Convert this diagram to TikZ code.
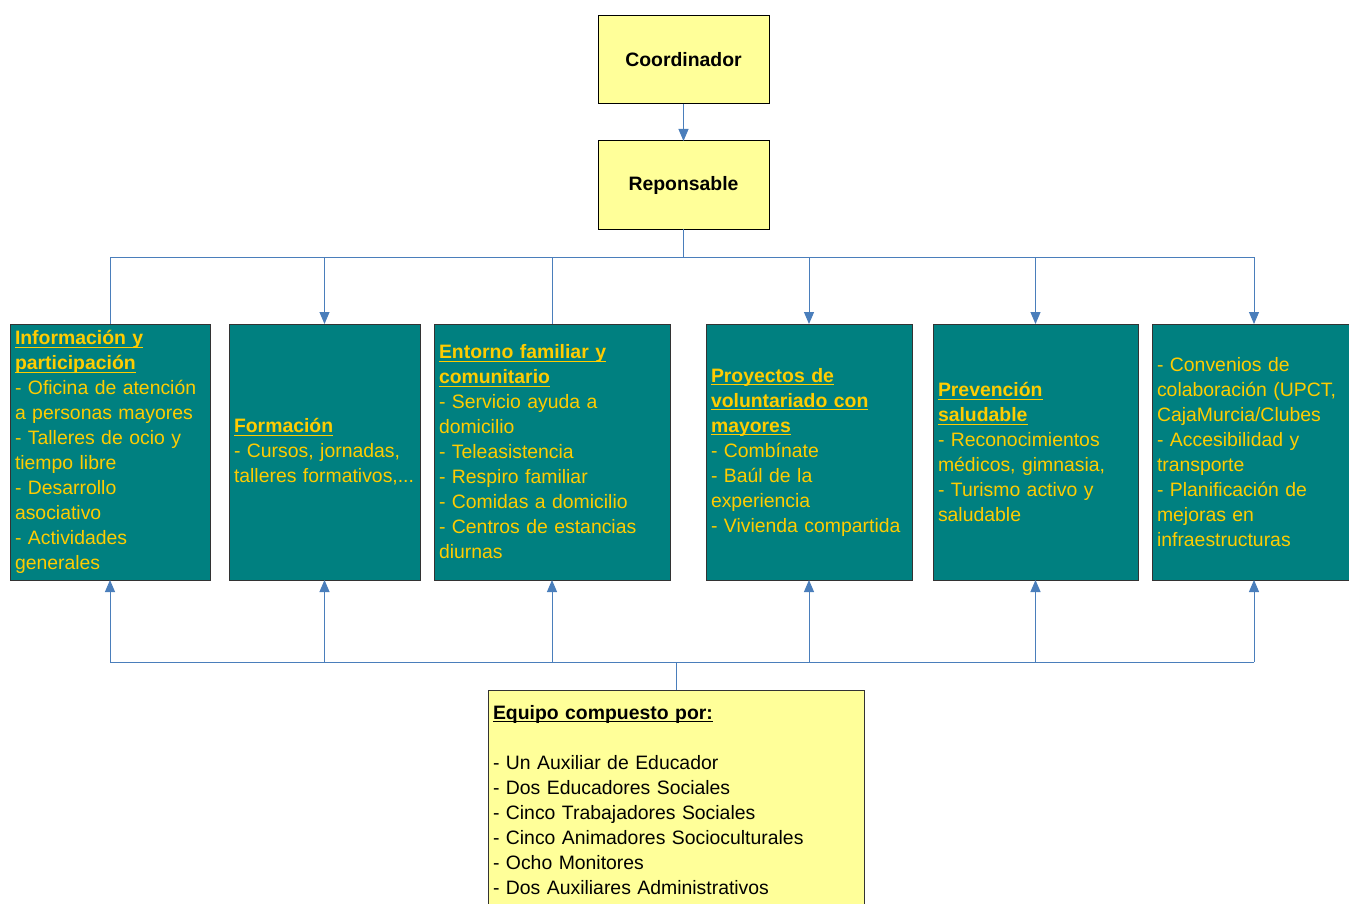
\documentclass[tikz,border=0pt]{standalone}
\usepackage{fontspec}
\setmainfont{Liberation Sans}
\usepackage{tikz}
\usetikzlibrary{arrows.meta,positioning}
\usepackage{xcolor}
\definecolor{Petrol}{HTML}{008080}
\definecolor{Amber}{HTML}{FFCC00}
\definecolor{Cream}{HTML}{FFFF99}
\definecolor{Wire}{HTML}{4A7EBB}
\definecolor{Edge}{HTML}{333333}
\newcommand{\encabezado}[1]{\textbf{\underline{\raisebox{0pt}[\height][0pt]{#1}}}}
\tikzset{
 headbox/.style={draw=black, fill=Cream, minimum width=85.5pt, minimum height=44pt, line width=0.5pt, outer sep=0pt, font=\fontsize{9.7}{12.5}\selectfont\bfseries},
 areabox/.style={draw=Edge, fill=Petrol, text=Amber, minimum height=128pt, align=left, inner xsep=2.5pt, inner ysep=0pt, line width=0.5pt, outer sep=0pt, font=\fontsize{9.7}{12.5}\selectfont},
 teambox/.style={draw=Edge, fill=Cream, align=left, inner xsep=2.5pt, inner ysep=7.5pt, line width=0.5pt, outer sep=0pt, text width=183pt, font=\fontsize{9.7}{12.5}\selectfont},
 wire/.style={draw=Wire, line width=0.5pt},
 tiparrow/.style={wire, -{Triangle[length=6pt,width=5pt]}, fill=Wire}
}
\begin{document}
\begin{tikzpicture}[x=0.5pt,y=-0.5pt]
\useasboundingbox (0,0) rectangle (1349,904);
\node[headbox] (coord) at (683.5,60) {Coordinador};
\node[headbox,below=18.5pt of coord] (resp) {Reponsable};
\node[areabox,text width=95pt,anchor=north west] (info) at (10,324) {\encabezado{Información y}\\ \encabezado{participación}\\ - Oficina de atención\\ a personas mayores\\ - Talleres de ocio y\\ tiempo libre\\ - Desarrollo\\ asociativo\\ - Actividades\\ generales};
\node[areabox,text width=90.5pt,right=9.5pt of info] (form) {\encabezado{Formación}\\ - Cursos, jornadas,\\ talleres formativos,...};
\node[areabox,text width=113pt,right=7pt of form] (entorno) {\encabezado{Entorno familiar y}\\ \encabezado{comunitario}\\ - Servicio ayuda a\\ domicilio\\ - Teleasistencia\\ - Respiro familiar\\ - Comidas a domicilio\\ - Centros de estancias\\ diurnas};
\node[areabox,text width=98pt,right=18pt of entorno] (proyectos) {\encabezado{Proyectos de}\\ \encabezado{voluntariado con}\\ \encabezado{mayores}\\ - Combínate\\ - Baúl de la\\ experiencia\\ - Vivienda compartida};
\node[areabox,text width=97.5pt,right=10.5pt of proyectos] (prev) {\encabezado{Prevención}\\ \encabezado{saludable}\\ - Reconocimientos\\ médicos, gimnasia,\\ - Turismo activo y\\ saludable};
\node[areabox,text width=97pt,right=7pt of prev] (otros) {- Convenios de\\ colaboración (UPCT,\\ CajaMurcia/Clubes\\ - Accesibilidad y\\ transporte\\ - Planificación de\\ mejoras en\\ infraestructuras};
\node[teambox,anchor=north] (team) at (676,690) {\encabezado{Equipo compuesto por:}\\[12.5pt] - Un Auxiliar de Educador\\ - Dos Educadores Sociales\\ - Cinco Trabajadores Sociales\\ - Cinco Animadores Socioculturales\\ - Ocho Monitores\\ - Dos Auxiliares Administrativos};
\coordinate[below=14pt of resp] (busTop);
\coordinate[above=14pt of team] (busBottom);
\draw[tiparrow] (coord) -- (resp);
\draw[wire] (resp) -- (busTop);
\draw[wire] (busTop -| info.north) -- (busTop -| otros.north);
\draw[wire] (busTop -| info.north) -- (info.north);
\draw[wire] (busTop -| entorno.north) -- (entorno.north);
\foreach \n in {form,proyectos,prev,otros}
 \draw[tiparrow] (busTop -| \n.north) -- (\n.north);
\draw[wire] (team) -- (busBottom);
\draw[wire] (busBottom -| info.south) -- (busBottom -| otros.south);
\foreach \n in {info,form,entorno,proyectos,prev,otros}
 \draw[tiparrow] (busBottom -| \n.south) -- (\n.south);
\end{tikzpicture}
\end{document}
